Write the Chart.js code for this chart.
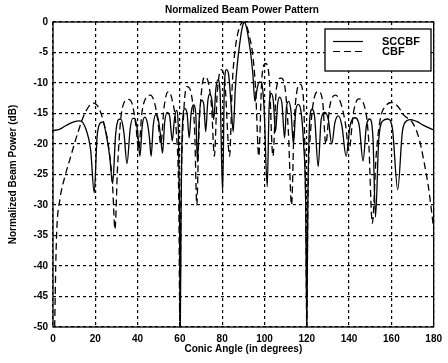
<!DOCTYPE html>
<html>
<head>
<meta charset="utf-8">
<script src="https://cdn.jsdelivr.net/npm/chart.js@4.4.0/dist/chart.umd.min.js"></script>
<style>
    html, body { margin: 0; padding: 0; background: #fff; }
    #wrap { width: 448px; height: 363px; }
</style>
</head>
<body>
<div id="wrap"><canvas id="chart-beam"></canvas></div>
<script>
const chartTitle = 'Normalized Beam Power Pattern';
const xTitle = 'Conic Angle (in degrees)';
const yTitle = 'Normalized Beam Power (dB)';
const seriesNames = ['SCCBF', 'CBF'];
const xTicks = [0, 20, 40, 60, 80, 100, 120, 140, 160, 180];
const yTicks = [0, -5, -10, -15, -20, -25, -30, -35, -40, -45, -50];

// SCCBF (solid)
const sccbfAngle = [0, 3, 6, 9.5, 12.7, 15.5, 17.8, 19.5, 20.8, 22.2, 23.6, 25.2, 26.8, 28.2, 29.6, 31, 32, 33.5, 35, 36.5,
    37.7, 38.7, 40, 41.1, 42.2, 43.4, 44.6, 45.6, 46.4, 47.4, 48.6, 49.8, 50.8, 51.8, 52.8, 54, 55.2, 56.4, 57.4, 58.4,
    59.3, 59.8, 60.2, 60.6, 61.2, 62.3, 63.4, 64.4, 65.3, 66.4, 67.5, 68.3, 69.2, 70.3, 71.3, 72.2, 73.2, 74.2, 75.2, 76,
    77, 78, 79, 80.2, 81, 82, 83, 84.3, 85.2, 86.2, 87.2, 88.2, 89.3, 90.5, 91.7, 92.7, 93.5, 94.5, 95.5, 96.5,
    97.5, 98.6, 99.8, 101.3, 102.2, 103.2, 104.2, 105.2, 106.2, 107.2, 108.3, 109.5, 110.4, 111.4, 112.5, 113.7, 114.8, 116, 117.2, 118.5,
    119.5, 120, 120.5, 121.4, 122.5, 123.7, 125.4, 126.8, 128.6, 130.2, 131.8, 133.3, 134.9, 136.6, 138.6, 140.5, 142.7, 144.8, 146.6, 148.2,
    149.8, 151.3, 152.5, 154, 156, 158.2, 160.5, 163, 165.2, 167.3, 169.2, 172, 175, 178, 180];
const sccbfPower = [-17.8, -17.6, -17, -16.4, -16.2, -17.5, -21, -28, -19, -16.6, -16.4, -18.5, -22, -26.5, -18.5, -16, -15.9, -18, -23.2, -17.5,
    -15.8, -15.8, -18, -22, -17, -15.6, -16.5, -19, -22, -17, -15.2, -16, -18.5, -21.5, -16.5, -14.8, -15.5, -19.5, -16, -14.5,
    -18, -30, -50, -30, -17, -14.2, -15, -19, -15, -13.6, -15, -23, -15.5, -12.8, -13.5, -18, -13, -11.8, -13, -16,
    -11, -9.5, -11.5, -28, -11, -7.8, -8.5, -14, -18, -11, -6.8, -3.8, -1.2, 0, -1.2, -3.3, -5.2, -8.5, -13, -11,
    -9.8, -10, -14, -27, -14, -11.7, -13, -18, -13.5, -12.3, -13.5, -19, -14, -13, -14.5, -20, -14.5, -13.5, -14.5, -20,
    -30, -50, -30, -16, -14.3, -15.5, -23.7, -16, -14.8, -16, -20, -16.5, -15.4, -17, -22, -17, -15.7, -17, -22.8, -17,
    -15.9, -19, -32, -19.5, -16.2, -15.9, -17.5, -27.5, -18, -16.2, -16, -16.3, -16.9, -17.4, -17.7];

// CBF (dashed)
const cbfAngle = [0.8, 1.3, 1.8, 3.3, 5.5, 8, 11.7, 15, 19, 21.5, 24, 26.5, 28.2, 29.3, 30.5, 32, 33.5, 35.5, 37.5, 39.2,
    40.5, 42, 44, 46, 48, 49.5, 51, 52.5, 54.5, 56.5, 58.3, 59.5, 60, 60.5, 61.8, 63.5, 65.5, 67, 68, 69,
    70.5, 72, 73.5, 75, 76.3, 77.6, 79.5, 81.3, 83.5, 84.8, 85.8, 87, 88.5, 90, 91.5, 93, 94.5, 95.8, 97.3, 98.8,
    100.5, 102.2, 104, 105.6, 107.8, 109.8, 111.3, 112.8, 114, 115.5, 116.8, 118.3, 119.5, 120, 120.5, 121.8, 123.5, 125.5, 127.5, 129,
    130.8, 133.5, 136, 138.2, 140, 142, 144.5, 147, 149.2, 151, 152.8, 154.7, 157.5, 160, 163, 166, 170, 173, 175.5, 177.5,
    179, 180];
const cbfPower = [-50, -40, -34, -29, -25.5, -22.5, -18.2, -15, -13.3, -14, -16.5, -21, -27, -34, -24, -16, -13.3, -12.7, -13.5, -17,
    -21, -15, -12.4, -12, -13.2, -16, -20, -14, -11.4, -13, -18, -30, -50, -30, -15, -10.6, -12, -18, -30, -18,
    -10.5, -9, -10, -14, -22, -12, -7.8, -10, -22, -10, -5.5, -2.5, -0.6, 0, -0.6, -2.5, -5.5, -11, -22, -9,
    -6.8, -9, -22, -11, -9.2, -11, -18, -30, -17, -11, -10.2, -12, -30, -50, -30, -18, -12.5, -11.4, -13, -20,
    -14, -12, -13.2, -16.5, -21, -15, -12.6, -13.5, -19, -33, -22, -16, -13.7, -13.2, -13.8, -15.3, -16.5, -19, -23, -27,
    -31, -34];

function toPoints(angles, values) {
    return angles.map((a, i) => ({x: a, y: values[i]}));
}

const boldFont = {family: '"Liberation Sans", Arial, sans-serif', size: 10, weight: 'bold'};

const framePlugin = {
    id: 'frame',
    afterDatasetsDraw(chart) {
        const {ctx, chartArea: a} = chart;
        ctx.save();
        ctx.strokeStyle = '#000';
        ctx.lineWidth = 1.3;
        ctx.strokeRect(a.left, a.top, a.right - a.left, a.bottom - a.top);

        // legend box
        const bx = 325, by = 29, bw = 106, bh = 42;
        ctx.fillStyle = '#fff';
        ctx.fillRect(bx, by, bw, bh);
        ctx.lineWidth = 1.3;
        ctx.strokeRect(bx, by, bw, bh);
        const rows = [41.5, 51.5];
        chart.data.datasets.forEach(function (ds, i) {
            ctx.beginPath();
            ctx.lineWidth = 1.2;
            ctx.setLineDash(ds.borderDash || []);
            ctx.moveTo(333, rows[i]);
            ctx.lineTo(363, rows[i]);
            ctx.stroke();
            ctx.setLineDash([]);
            ctx.fillStyle = '#000';
            ctx.font = 'bold 11px "Liberation Sans", Arial, sans-serif';
            ctx.textBaseline = 'middle';
            ctx.textAlign = 'left';
            ctx.fillText(ds.label, 382, rows[i]);
        });

        // title
        ctx.font = 'bold 10px "Liberation Sans", Arial, sans-serif';
        ctx.textAlign = 'center';
        ctx.textBaseline = 'middle';
        ctx.fillText(chartTitle, 242, 10);
        ctx.restore();
    }
};

new Chart(document.getElementById('chart-beam'), {
    type: 'line',
    data: {
        datasets: [
            {
                label: seriesNames[0],
                data: toPoints(sccbfAngle, sccbfPower),
                borderColor: '#000',
                borderWidth: 1.3,
                pointRadius: 0,
                cubicInterpolationMode: 'monotone',
            },
            {
                label: seriesNames[1],
                data: toPoints(cbfAngle, cbfPower),
                borderColor: '#000',
                borderWidth: 1.3,
                borderDash: [7, 4],
                pointRadius: 0,
                cubicInterpolationMode: 'monotone',
            }
        ]
    },
    options: {
        responsive: true,
        maintainAspectRatio: false,
        animation: false,
        layout: {padding: {top: 22, right: 12, left: 0, bottom: 0}},
        plugins: {
            legend: {display: false},
            tooltip: {enabled: false},
        },
        scales: {
            x: {
                type: 'linear',
                min: 0,
                max: 180,
                afterBuildTicks: s => { s.ticks = xTicks.map(v => ({value: v})); },
                afterFit: s => { s.height = 36; },
                grid: {color: '#000', lineWidth: 1.2, drawTicks: false},
                border: {display: false, dash: [3, 3]},
                ticks: {color: '#000', font: boldFont, padding: 6, maxRotation: 0},
                title: {display: true, text: xTitle, color: '#000', font: boldFont, padding: {top: 0, bottom: 8}},
            },
            y: {
                type: 'linear',
                min: -50,
                max: 0,
                afterBuildTicks: s => { s.ticks = yTicks.map(v => ({value: v})); },
                afterFit: s => { s.width = 53; },
                grid: {color: '#000', lineWidth: 1.2, drawTicks: false},
                border: {display: false, dash: [3, 3]},
                ticks: {color: '#000', font: boldFont, padding: 5},
                title: {display: true, text: yTitle, color: '#000', font: boldFont, padding: {top: 7, bottom: 0}},
            }
        }
    },
    plugins: [framePlugin]
});
</script>
</body>
</html>
